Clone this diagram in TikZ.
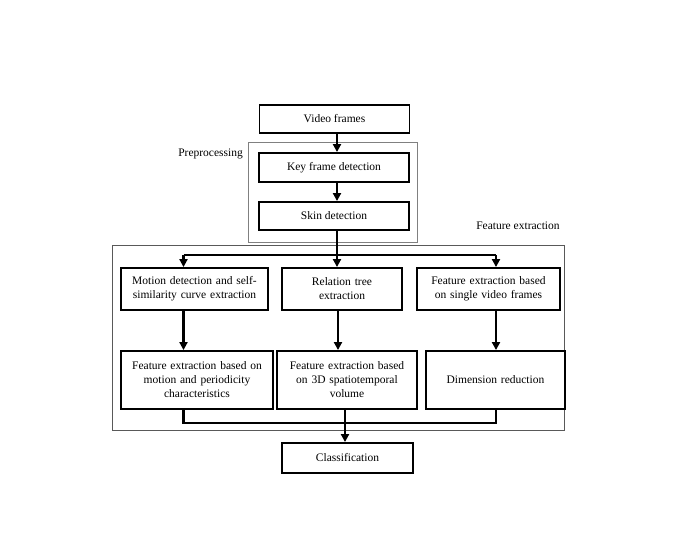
\documentclass[tikz,border=0pt]{standalone}
\usepackage{fontspec}
\setmainfont{Liberation Serif}
\usepackage{tikz}
\usetikzlibrary{arrows.meta, positioning, calc}

\begin{document}
\begin{tikzpicture}[x=1pt, y=-1pt,
    stepbox/.style={draw, line width=1.9pt, align=center, inner sep=1pt,
      font=\fontsize{11.5}{14}\selectfont},
    flow/.style={line width=2.4pt, -{Triangle[length=8pt,width=8pt]}},
    plain/.style={line width=2.4pt},
    grp/.style={draw=gray!70!black, line width=0.9pt}]
  \useasboundingbox (0,0) rectangle (685,556);

  % Groups
  \draw[grp, draw=gray] (248,142) rectangle (417,242);
  \draw[grp] (112,245) rectangle (564,430);
  \node[font=\fontsize{11.5}{13}\selectfont, anchor=east, inner sep=1pt] (prelbl) at (244,154) {Preprocessing};
  \node[font=\fontsize{11.5}{13}\selectfont] (fxlbl) at (518,226) {Feature extraction};

  % Preprocessing chain
  \node[stepbox, minimum width=150, minimum height=28] (video) at (334.5,119) {Video frames};
  \node[stepbox, minimum width=150, minimum height=29] (keyframe) at (334,167.5) {Key frame detection};
  \node[stepbox, minimum width=150, minimum height=28] (skin) at (334,216) {Skin detection};

  % Top row
  \node[stepbox, minimum width=147, minimum height=42, text width=145] (motion) at (194.5,289)
    {Motion detection and self-\\similarity curve extraction};
  \node[stepbox, minimum width=120, minimum height=42, text width=118] (relation) at (342,289)
    {Relation tree\\extraction};
  \node[stepbox, minimum width=143, minimum height=42, text width=141] (single) at (488.5,289)
    {Feature extraction based\\on single video frames};

  % Bottom row
  \node[stepbox, minimum width=152, minimum height=58, text width=150] (periodic) at (197,380)
    {Feature extraction based on\\motion and periodicity\\characteristics};
  \node[stepbox, minimum width=140, minimum height=58, text width=138] (volume) at (347,380)
    {Feature extraction based\\on 3D spatiotemporal\\volume};
  \node[stepbox, minimum width=139, minimum height=58, text width=137] (dimred) at (495.5,380)
    {Dimension reduction};

  \node[stepbox, minimum width=131, minimum height=30] (classif) at (347.5,458) {Classification};

  % Connectors
  \coordinate (split) at (337,255);
  \coordinate (merge) at (345,423);
  \draw[flow] ([xshift=2.5]video.south) -- ([xshift=3]keyframe.north);
  \draw[flow] ([xshift=3]keyframe.south) -- ([xshift=3]skin.north);
  \draw[plain] ([xshift=3]skin.south) -- (split);
  \draw[plain] ([xshift=-11]motion.north |- split) -- ([xshift=7.5]single.north |- split);
  \draw[flow] (split) -- (split |- relation.north);
  \draw[flow] ([xshift=-11]motion.north |- split) -- ([xshift=-11]motion.north);
  \draw[flow] ([xshift=7.5]single.north |- split) -- ([xshift=7.5]single.north);

  \draw[flow] ([xshift=-11]motion.south) -- ([xshift=-11]motion.south |- periodic.north);
  \draw[flow] ([xshift=-4]relation.south) -- ([xshift=-4]relation.south |- volume.north);
  \draw[flow] ([xshift=7.5]single.south) -- ([xshift=7.5]single.south |- dimred.north);

  \draw[plain] ([xshift=-11]motion.south |- periodic.south) -- ([xshift=-11]motion.south |- merge)
    -- ([xshift=7.5]single.south |- merge) -- ([xshift=7.5]single.south |- dimred.south);
  \draw[plain] ([xshift=-2]volume.south) -- (merge);
  \draw[flow] (merge) -- (merge |- classif.north);
\end{tikzpicture}
\end{document}
